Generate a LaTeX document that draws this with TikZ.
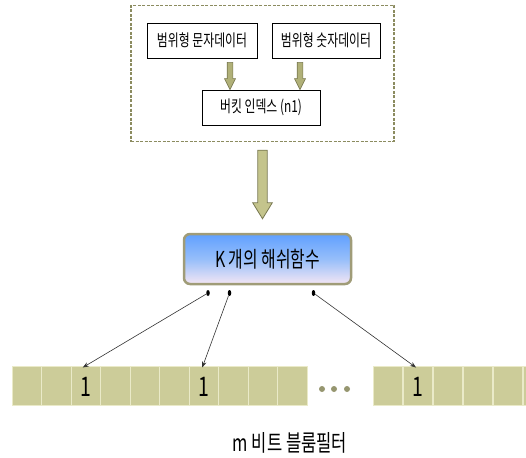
\documentclass[tikz,border=0pt]{standalone}
\usepackage{fontspec}
\newfontfamily\kr[FakeStretch=0.72]{Noto Sans CJK KR}
\usetikzlibrary{calc,arrows.meta,shapes.geometric}
\definecolor{cellfill}{RGB}{204,204,153}
\definecolor{cellline}{RGB}{234,234,200}
\definecolor{olivedash}{RGB}{140,140,96}
\definecolor{arrowfill}{RGB}{176,176,120}
\definecolor{arrowline}{RGB}{120,120,80}
\definecolor{bigfill}{RGB}{196,196,140}
\definecolor{hashborder}{RGB}{160,156,120}
\definecolor{hashtop}{RGB}{96,160,255}
\definecolor{hashmid}{RGB}{150,190,250}
\definecolor{hashbot}{RGB}{244,230,244}
\definecolor{dotcol}{RGB}{150,150,112}
\tikzset{
  x=1pt, y=-1pt,
  databox/.style={draw=black, line width=0.8pt, fill=white, minimum height=35pt, inner sep=0pt, font=\kr\fontsize{16.5}{19}\selectfont},
  cell/.style={draw=cellline, line width=1pt, fill=cellfill, minimum width=29.5pt, minimum height=39pt, inner sep=0pt},
  bitval/.style={font=\kr\fontsize{27}{29}\selectfont, inner sep=0pt},
  fatarrow/.style={draw=arrowline, fill=arrowfill, line width=0.6pt, line join=miter},
  bigarrow/.style={draw=arrowline, fill=bigfill, line width=0.8pt, line join=miter},
  hashdot/.style={ellipse, fill=black, minimum width=3.5pt, minimum height=6pt, inner sep=0pt},
  hashline/.style={draw=black!80, line width=0.6pt, -{Stealth[length=6pt,width=4.5pt]}},
}
% vertical fat arrow: #1 top, #2 bottom, #3 half shaft, #4 half head, #5 head length
\newcommand\vfatarrow[6]{%
  \path[#6] let \p1=(#1), \p2=(#2) in
    (\x1-#3,\y1) -- (\x1+#3,\y1) -- (\x1+#3,\y2+#5) -- (\x1+#4,\y2+#5) -- (\x1,\y2)
    -- (\x1-#4,\y2+#5) -- (\x1-#3,\y2+#5) -- cycle;}
\begin{document}
\begin{tikzpicture}
\useasboundingbox (0,0) rectangle (526,457);
% dashed outer frame
\node[draw=olivedash, dash pattern=on 3pt off 1.5pt, line width=1.4pt, minimum width=263pt, minimum height=136pt, inner sep=0pt] (frame) at (262.5,73.5) {};
% boxes
\node[databox, minimum width=110pt] (b1) at (202,40.5) {범위형 문자데이터};
\node[databox, minimum width=108pt] (b2) at (326,40.5) {범위형 숫자데이터};
\node[databox, minimum width=118pt] (b3) at (261,107.5) {버킷 인덱스 (n1)};
% small olive arrows
\coordinate (a1t) at ($(b1.south)+(28,4)$);
\coordinate (a1b) at (b3.north -| a1t);
\coordinate (a2t) at ($(b2.south)+(-26,4)$);
\coordinate (a2b) at (b3.north -| a2t);
\vfatarrow{a1t}{a1b}{2.8pt}{5.5pt}{11pt}{fatarrow}
\vfatarrow{a2t}{a2b}{2.8pt}{5.5pt}{11pt}{fatarrow}
% hash function box
\node[draw=hashborder, line width=2.5pt, rounded corners=6pt, top color=hashtop, bottom color=hashbot, middle color=hashmid, minimum width=167pt, minimum height=50pt, inner sep=0pt, font=\kr\fontsize{22}{24}\selectfont] (hash) at (267.5,259) {K 개의 해쉬함수};
% big arrow
\coordinate (bt) at ($(frame.south)+(0,8)$);
\coordinate (bb) at ($(frame.south |- hash.north)+(0,-14)$);
\vfatarrow{bt}{bb}{4.7pt}{9.8pt}{16pt}{bigarrow}
% bit cells
\foreach \i in {1,...,10} {
  \node[cell] (c\i) at ({12+29.5*(\i-0.5)},386) {};
}
\foreach \i in {1,...,6} {
  \node[cell] (d\i) at ({373+30*(\i-0.5)},386) {};
}
\node[bitval] (v1) at ($(c3)+(0,1)$) {1};
\node[bitval] (v2) at ($(c7)+(0,1)$) {1};
\node[bitval] (v3) at ($(d2)+(0,1)$) {1};
% ellipsis dots
\foreach \xx in {322,334,347} { \fill[dotcol] (\xx,389) circle (3pt); }
% hash dots and connectors
\node[hashdot] (h1) at (208,293) {};
\node[hashdot] (h2) at (229.5,293) {};
\node[hashdot] (h3) at (313.5,293) {};
\coordinate (t1) at ($(c3.north)+(-3,1.5)$);
\coordinate (t2) at ($(c7.north)+(-1.5,1.5)$);
\coordinate (t3) at ($(d2.north)+(-2,1.5)$);
\draw[hashline] (h1) -- (t1);
\draw[hashline] (h2) -- (t2);
\draw[hashline] (h3) -- (t3);
% label
\node[font=\kr\fontsize{23}{25}\selectfont] (lbl) at (290,443) {m 비트 블룸필터};
\end{tikzpicture}
\end{document}
